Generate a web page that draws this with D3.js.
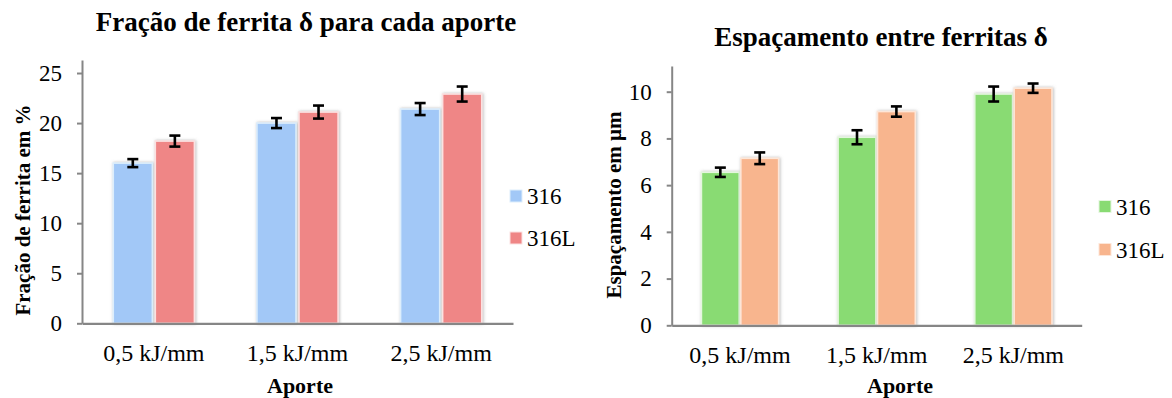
<!DOCTYPE html>
<html>
<head>
<meta charset="utf-8">
<script src="https://cdn.jsdelivr.net/npm/d3@7"></script>
<style>
  body { margin: 0; background: #fff; }
  svg { display: block; }
  text { font-family: "Liberation Serif", "Times New Roman", serif; fill: #000; }
</style>
</head>
<body>
<svg id="chart" width="1172" height="398"></svg>
<script>
// Categories (heat input) and series (steel grades)
const categories = ["0,5 kJ/mm", "1,5 kJ/mm", "2,5 kJ/mm"];
const seriesNames = ["316", "316L"];

// Delta-ferrite fraction (%) with error bars
const fraction316 = [16.0, 20.0, 21.4];
const fraction316L = [18.2, 21.1, 22.9];
const fractionErr316 = [0.4, 0.5, 0.6];
const fractionErr316L = [0.55, 0.65, 0.75];
const fractionTicks = [0, 5, 10, 15, 20, 25];

// Spacing between delta-ferrite arms (µm) with error bars
const spacing316 = [6.55, 8.05, 9.9];
const spacing316L = [7.15, 9.15, 10.15];
const spacingErr316 = [0.2, 0.3, 0.32];
const spacingErr316L = [0.25, 0.22, 0.2];
const spacingTicks = [0, 2, 4, 6, 8, 10];

const SERIF = "'Liberation Serif', 'Times New Roman', serif";
const svg = d3.select("#chart");

// soft grey halo around the bars
const defs = svg.append("defs");
const f = defs.append("filter").attr("id", "halo")
  .attr("x", "-20%").attr("y", "-20%").attr("width", "140%").attr("height", "140%");
f.append("feDropShadow").attr("dx", 0.8).attr("dy", 0).attr("stdDeviation", 1.4)
  .attr("flood-color", "#808080").attr("flood-opacity", 0.55);

function drawPanel(o) {
  const g = svg.append("g");
  const x = d3.scaleBand().domain(categories).range([o.left, o.right]);
  const y = d3.scaleLinear().domain([0, o.yMax]).range([o.bottom, o.top]);
  const groupW = x.bandwidth() * o.groupFrac;
  const inner = d3.scaleBand().domain(seriesNames).range([0, groupW]).paddingInner(o.innerPad);

  const rows = categories.map((c, i) => ({
    cat: c,
    bars: seriesNames.map((s, k) => ({
      s, k, v: o.values[k][i], e: o.errors[k][i]
    }))
  }));

  const groups = g.selectAll("g.grp").data(rows).join("g")
    .attr("transform", d => `translate(${x(d.cat) + (x.bandwidth() - groupW) / 2},0)`);

  groups.selectAll("rect").data(d => d.bars).join("rect")
    .attr("x", d => inner(d.s))
    .attr("y", d => y(d.v))
    .attr("width", inner.bandwidth())
    .attr("height", d => y(0) - y(d.v))
    .attr("fill", d => o.colors[d.k])
    .attr("stroke", d => o.borders[d.k])
    .attr("stroke-width", 1.6)
    .attr("filter", "url(#halo)");

  // error bars
  const eb = groups.selectAll("g.err").data(d => d.bars).join("g")
    .attr("transform", d => `translate(${inner(d.s) + inner.bandwidth() / 2},0)`)
    .attr("stroke", "#000").attr("stroke-width", 2.6);
  eb.append("line").attr("x1", 0).attr("x2", 0)
    .attr("y1", d => y(d.v - d.e)).attr("y2", d => y(d.v + d.e));
  eb.append("line").attr("x1", -5.5).attr("x2", 5.5)
    .attr("y1", d => y(d.v + d.e)).attr("y2", d => y(d.v + d.e));
  eb.append("line").attr("x1", -5.5).attr("x2", 5.5)
    .attr("y1", d => y(d.v - d.e)).attr("y2", d => y(d.v - d.e));

  // value axis
  const ya = g.append("g").attr("transform", `translate(${o.left},0)`)
    .call(d3.axisLeft(y).tickValues(o.ticks).tickSize(5).tickSizeOuter(0).tickPadding(15));
  ya.attr("font-family", null);
  ya.selectAll("path,line").attr("stroke", "#868686").attr("stroke-width", 2);
  ya.selectAll("text").attr("font-size", 23).attr("fill", "#000");

  // category axis
  const xa = g.append("g").attr("transform", `translate(0,${o.bottom})`)
    .call(d3.axisBottom(x).tickSize(0).tickSizeOuter(0).tickPadding(20.5));
  xa.attr("font-family", null);
  xa.select("path").attr("stroke", "#868686").attr("stroke-width", 2.2);
  xa.selectAll("text").attr("font-size", 24).attr("fill", "#000");

  // titles
  g.append("text").attr("x", o.titleX).attr("y", o.titleY)
    .attr("text-anchor", "middle").attr("font-size", 27).attr("font-weight", "bold")
    .text(o.title);
  g.append("text").attr("x", o.xTitleX).attr("y", o.xTitleY)
    .attr("text-anchor", "middle").attr("font-size", 22).attr("font-weight", "bold")
    .text("Aporte");
  g.append("text")
    .attr("transform", `translate(${o.yTitleX},${o.yTitleY}) rotate(-90)`)
    .attr("text-anchor", "middle").attr("font-size", 21).attr("font-weight", "bold")
    .text(o.yTitle);

  // legend
  const lg = g.selectAll("g.leg").data(seriesNames).join("g")
    .attr("transform", (d, i) => `translate(${o.legX},${o.legY + i * o.legStep})`);
  lg.append("rect").attr("x", 0).attr("y", -6).attr("width", 12).attr("height", 12)
    .attr("fill", (d, i) => o.colors[i]).attr("stroke", (d, i) => o.borders[i]).attr("stroke-width", 1);
  lg.append("text").attr("x", 17).attr("y", 8).attr("font-size", 23).text(d => d);

  g.selectAll("text").style("font-family", SERIF);
}

drawPanel({
  left: 82, right: 513, bottom: 323.3, top: 60, yMax: 26.3,
  ticks: fractionTicks, groupFrac: 0.565, innerPad: 0.07,
  values: [fraction316, fraction316L], errors: [fractionErr316, fractionErr316L],
  colors: ["#A2C8F7", "#EF8686"], borders: ["#DDEEFC", "#FBE1E1"],
  title: "Fração de ferrita  δ para cada aporte", titleX: 306, titleY: 31,
  xTitleX: 300, xTitleY: 393,
  yTitle: "Fração de ferrita em %", yTitleX: 30, yTitleY: 210,
  legX: 510, legY: 196, legStep: 42
});

drawPanel({
  left: 671.7, right: 1081.7, bottom: 325.3, top: 66, yMax: 11.1,
  ticks: spacingTicks, groupFrac: 0.565, innerPad: 0.04,
  values: [spacing316, spacing316L], errors: [spacingErr316, spacingErr316L],
  colors: ["#89DB73", "#F8B58E"], borders: ["#E4F6DE", "#FDE6D8"],
  title: "Espaçamento entre ferritas  δ", titleX: 881, titleY: 46,
  xTitleX: 900, xTitleY: 393,
  yTitle: "Espaçamento em µm", yTitleX: 621, yTitleY: 205,
  legX: 1099, legY: 206.5, legStep: 43
});
</script>
</body>
</html>
